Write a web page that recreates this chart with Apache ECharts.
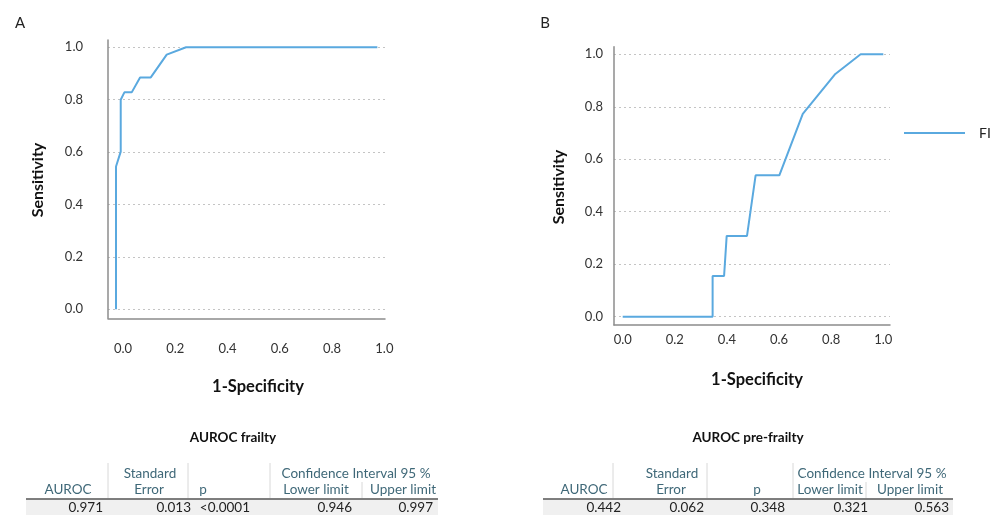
<!DOCTYPE html>
<html><head><meta charset="utf-8">
<script src="https://cdn.jsdelivr.net/npm/echarts@6/dist/echarts.min.js"></script>
<style>html,body{margin:0;padding:0;background:#fff}#c{width:997px;height:516px}</style>
</head><body><div id="c"></div>
<script>
// ---- data ----
const fprA = [0, 0, 0.018, 0.018, 0.032, 0.060, 0.092, 0.133, 0.194, 0.268, 1.0];
const tprA = [0, 0.545, 0.602, 0.800, 0.828, 0.828, 0.885, 0.885, 0.972, 1.0, 1.0];
const fprB = [0, 0.345, 0.345, 0.389, 0.399, 0.477, 0.510, 0.601, 0.691, 0.816, 0.913, 1.0];
const tprB = [0, 0, 0.155, 0.155, 0.308, 0.308, 0.539, 0.539, 0.773, 0.925, 1.0, 1.0];
const tickValues = [0, 0.2, 0.4, 0.6, 0.8, 1.0];
const seriesName = 'FI';
const panelLabels = ['A', 'B'];
const xTitle = '1-Specificity';
const yTitle = 'Sensitivity';
const tableTitles = ['AUROC frailty', 'AUROC pre-frailty'];
const headerTop = ['Standard', 'Confidence Interval 95 %'];
const headerBottom = ['AUROC', 'Error', 'p', 'Lower limit', 'Upper limit'];
const tableValuesA = ['0.971', '0.013', '<0.0001', '0.946', '0.997'];
const tableValuesB = ['0.442', '0.062', '0.348', '0.321', '0.563'];

// ---- layout (positions / styles) ----
const FONT = 'Lato, "Open Sans", sans-serif';
const LINE_COLOR = '#5aa9df';
const HEAD_COLOR = '#3f6878';
const TFONT = '13.5px ' + FONT;
const tableLayouts = [
  { title: 233, top: [150, 356], bottom: [68, 149, 203, 316, 403], values: [103, 191, 250, 352, 433],
    rule: [26, 438], sepFull: [108, 188, 270], sepLow: [362] },
  { title: 748, top: [672, 872], bottom: [584, 671, 757, 830, 910], values: [621, 704, 785, 868, 949],
    rule: [543, 953], sepFull: [613, 707, 793], sepLow: [866] }
];

function pairs(xs, ys) { return xs.map((x, i) => [x, ys[i]]); }

function xAxisCfg(gi, min, max, margin, pad) {
  return {
    type: 'value', gridIndex: gi, min: min, max: max,
    axisLine: { show: true, onZero: false, lineStyle: { color: '#8c8c8c', width: 1.5 } },
    axisTick: { show: false, customValues: tickValues },
    splitLine: { show: false },
    axisLabel: { customValues: tickValues, formatter: v => v.toFixed(1), margin: margin,
      color: '#333', fontSize: 13, fontFamily: FONT, padding: pad }
  };
}
function yAxisCfg(gi, min, max, margin) {
  return {
    type: 'value', gridIndex: gi, min: min, max: max,
    axisLine: { show: true, onZero: false, lineStyle: { color: '#8c8c8c', width: 1.5 } },
    axisTick: { show: false, customValues: tickValues },
    splitLine: { show: true, lineStyle: { color: '#c4c4c4', type: [2, 3], width: 1 } },
    axisLabel: { customValues: tickValues, formatter: v => v.toFixed(1), margin: margin,
      color: '#333', fontSize: 13, fontFamily: FONT }
  };
}

const graphics = [];
function txt(x, y, text, opts) {
  graphics.push({ type: 'text', x: x, y: y, rotation: opts.rotation || 0, silent: true,
    style: { text: text, align: opts.align || 'center', verticalAlign: 'middle',
      font: opts.font || TFONT, fill: opts.fill || '#222' } });
}
function line(x1, y1, x2, y2, color, w) {
  graphics.push({ type: 'line', silent: true, shape: { x1, y1, x2, y2 },
    style: { stroke: color, lineWidth: w } });
}

// panel letters
txt(20, 23, panelLabels[0], { font: '15px ' + FONT });
txt(545, 23, panelLabels[1], { font: '15px ' + FONT });
// axis titles
txt(38, 180, yTitle, { rotation: Math.PI / 2, font: 'bold 16px ' + FONT, fill: '#111' });
txt(559, 187, yTitle, { rotation: Math.PI / 2, font: 'bold 16px ' + FONT, fill: '#111' });
txt(258, 387, xTitle, { font: 'bold 16.5px ' + FONT, fill: '#111' });
txt(757, 380, xTitle, { font: 'bold 16.5px ' + FONT, fill: '#111' });

// tables
[tableValuesA, tableValuesB].forEach((vals, t) => {
  const L = tableLayouts[t];
  graphics.push({ type: 'rect', silent: true, shape: { x: L.rule[0], y: 499.5, width: L.rule[1] - L.rule[0], height: 15.5 },
    style: { fill: '#f0f0f0' } });
  txt(L.title, 438, tableTitles[t], { font: 'bold 13.5px ' + FONT, fill: '#111' });
  headerTop.forEach((h, i) => txt(L.top[i], 474, h, { fill: HEAD_COLOR }));
  headerBottom.forEach((h, i) => txt(L.bottom[i], 490, h, { fill: HEAD_COLOR }));
  L.sepFull.forEach(x => line(x, 463, x, 498, '#d8d8d8', 1));
  L.sepLow.forEach(x => line(x, 482, x, 498, '#d8d8d8', 1));
  line(L.rule[0], 499, L.rule[1], 499, '#555', 1.5);
  vals.forEach((v, i) => txt(L.values[i], 507.5, v, { align: 'right', fill: '#222' }));
});

const chart = echarts.init(document.getElementById('c'), null, { renderer: 'canvas' });
chart.setOption({
  backgroundColor: '#fff',
  animation: false,
  grid: [
    { left: 108, top: 40, width: 277, height: 278.3 },
    { left: 614, top: 46.7, width: 276, height: 278.3 }
  ],
  xAxis: [
    xAxisCfg(0, -0.0307, 1.0293, 24, [0, 0, 0, 14]),
    xAxisCfg(1, -0.0334, 1.0257, 8, 0)
  ],
  yAxis: [
    yAxisCfg(0, -0.0344, 1.0279, 25),
    yAxisCfg(1, -0.0316, 1.029, 11)
  ],
  legend: {
    data: [seriesName], left: 904, top: 126, padding: 0, icon: 'rect', itemWidth: 61, itemHeight: 2,
    textStyle: { fontSize: 14, fontFamily: FONT, color: '#222', padding: [0, 0, 0, 9] }
  },
  series: [
    { name: seriesName, type: 'line', xAxisIndex: 0, yAxisIndex: 0, data: pairs(fprA, tprA),
      symbol: 'none', lineStyle: { color: LINE_COLOR, width: 2 }, itemStyle: { color: LINE_COLOR } },
    { name: seriesName, type: 'line', xAxisIndex: 1, yAxisIndex: 1, data: pairs(fprB, tprB),
      symbol: 'none', lineStyle: { color: LINE_COLOR, width: 2 }, itemStyle: { color: LINE_COLOR } }
  ],
  graphic: graphics
});
</script></body></html>
